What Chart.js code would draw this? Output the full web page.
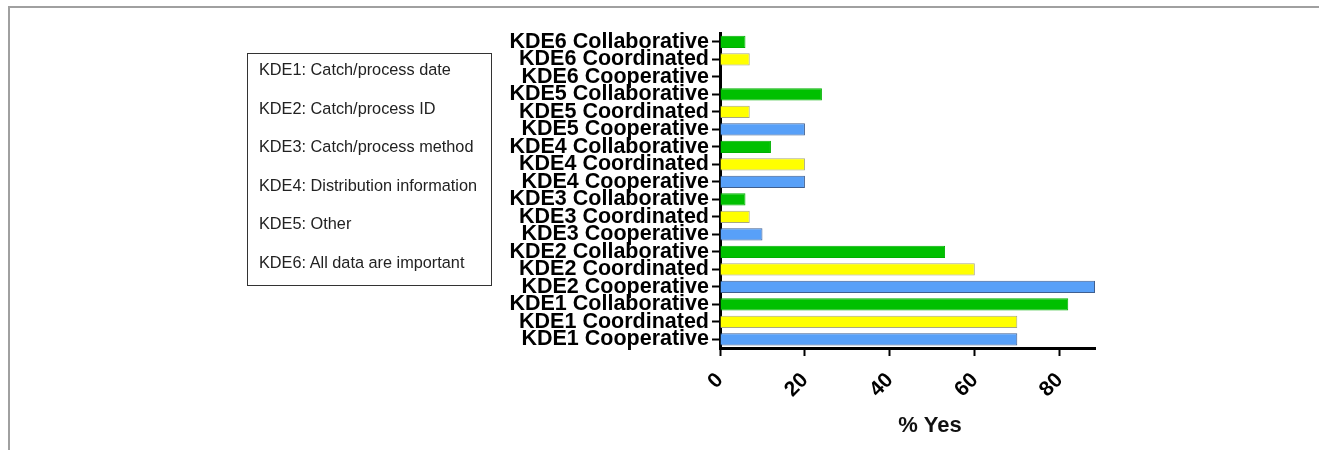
<!DOCTYPE html>
<html>
<head>
<meta charset="utf-8">
<script src="https://cdn.jsdelivr.net/npm/chart.js@4"></script>
<style>
  html, body { margin: 0; padding: 0; background: #fff; }
  #wrap { position: relative; width: 1319px; height: 450px; overflow: hidden; }
  #frame { position: absolute; left: 8px; top: 6px; width: 1400px; height: 500px;
           border-top: 2px solid #a0a0a0; border-left: 2px solid #a0a0a0; }
  #chart { position: absolute; left: 0; top: 0; }
  #keyBox { position: absolute; left: 247px; top: 53px; width: 243px; height: 231px;
            border: 1.5px solid #333; font-family: 'Liberation Sans', Arial, sans-serif;
            font-size: 16.3px; color: #222; }
  #keyBox div { position: absolute; left: 11px; white-space: nowrap; }
</style>
</head>
<body>
<div id="wrap">
  <div id="frame"></div>
  <canvas id="chart" width="1319" height="450"></canvas>
  <div id="keyBox"></div>
</div>
<script>
// rows from bottom to top
const categories = [
  'KDE1 Cooperative', 'KDE1 Coordinated', 'KDE1 Collaborative',
  'KDE2 Cooperative', 'KDE2 Coordinated', 'KDE2 Collaborative',
  'KDE3 Cooperative', 'KDE3 Coordinated', 'KDE3 Collaborative',
  'KDE4 Cooperative', 'KDE4 Coordinated', 'KDE4 Collaborative',
  'KDE5 Cooperative', 'KDE5 Coordinated', 'KDE5 Collaborative',
  'KDE6 Cooperative', 'KDE6 Coordinated', 'KDE6 Collaborative'
];
const pctYes = [70, 70, 82, 88.3, 60, 53, 10, 7, 6, 20, 20, 12, 20, 7, 24, 0, 7, 6];
const xTicks = [0, 20, 40, 60, 80];
const keyLines = [
  'KDE1: Catch/process date',
  'KDE2: Catch/process ID',
  'KDE3: Catch/process method',
  'KDE4: Distribution information',
  'KDE5: Other',
  'KDE6: All data are important'
];

const fills = { Cooperative: '#58a0f8', Coordinated: '#ffff00', Collaborative: '#00c000' };
const edges = { Cooperative: '#3f5f90', Coordinated: '#a8a880', Collaborative: '#00b000' };
const kind = c => c.split(' ')[1];

// key box text
const box = document.getElementById('keyBox');
keyLines.forEach((t, i) => {
  const d = document.createElement('div');
  d.textContent = t;
  d.style.top = (6 + i * 38.5) + 'px';
  box.appendChild(d);
});

const FONT = "'Liberation Sans', Arial, sans-serif";

const xTitle = {
  id: 'xTitle',
  afterDraw(chart) {
    const ctx = chart.ctx;
    ctx.save();
    ctx.font = 'bold 22px ' + FONT;
    ctx.fillStyle = '#111';
    ctx.textAlign = 'center';
    ctx.textBaseline = 'middle';
    ctx.fillText('% Yes', 930, 426);
    ctx.restore();
  }
};

new Chart(document.getElementById('chart'), {
  type: 'bar',
  data: {
    labels: categories,
    datasets: [{
      data: pctYes,
      backgroundColor: categories.map(c => fills[kind(c)]),
      borderColor: categories.map(c => edges[kind(c)]),
      borderWidth: 1,
      barPercentage: 0.7,
      categoryPercentage: 1
    }]
  },
  options: {
    indexAxis: 'y',
    responsive: false,
    animation: false,
    layout: { padding: { left: 0, right: 224, top: 33, bottom: 0 } },
    plugins: { legend: { display: false }, tooltip: { enabled: false } },
    scales: {
      y: {
        reverse: true,
        afterFit: s => { s.width = 720; },
        border: { display: true, color: '#000', width: 3 },
        grid: { offset: false, drawOnChartArea: false, drawTicks: true, tickLength: 8, tickWidth: 2, tickColor: '#000' },
        ticks: { autoSkip: false, color: '#000', padding: 3, font: { family: FONT, size: 21.5, weight: 'bold' } }
      },
      x: {
        min: 0,
        max: 88.3,
        afterFit: s => { s.height = 102; },
        afterBuildTicks: s => { s.ticks = xTicks.map(v => ({ value: v })); },
        border: { display: true, color: '#000', width: 3 },
        grid: { drawOnChartArea: false, drawTicks: true, tickLength: 8, tickWidth: 2, tickColor: '#000' },
        ticks: {
          color: '#000', padding: 12, minRotation: 45, maxRotation: 45, includeBounds: false,
          font: { family: FONT, size: 21, weight: 'bold' }
        }
      }
    }
  },
  plugins: [xTitle]
});
</script>
</body>
</html>
